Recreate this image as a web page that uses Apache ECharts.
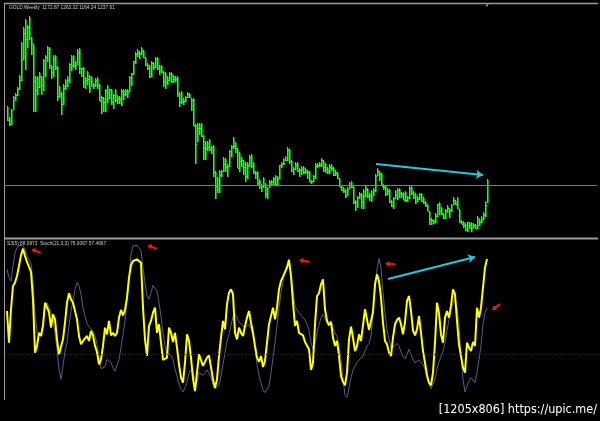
<!DOCTYPE html>
<html><head><meta charset="utf-8">
<script src="https://cdn.jsdelivr.net/npm/echarts@6/dist/echarts.min.js"></script>
<style>html,body{margin:0;padding:0;background:#000;}#c{width:600px;height:421px;}</style>
</head><body><div id="c"></div><script>
// Weekly GOLD bars (one per week, oldest first)
const highs = [1559,1512,1545,1597,1610,1633,1683,1817,1877,1911,1885,1921,1838,1808,1680,1680,1695,1681,1746,1765,
1802,1796,1724,1764,1763,1718,1640,1615,1645,1667,1680,1730,1764,1763,1738,1790,1792,1713,1716,1673,
1698,1683,1678,1652,1670,1673,1645,1600,1596,1625,1641,1628,1628,1605,1627,1603,1597,1627,1626,1625,
1627,1678,1693,1741,1778,1787,1781,1796,1786,1756,1730,1722,1740,1737,1755,1754,1723,1725,1701,1694,
1678,1695,1696,1685,1680,1678,1613,1620,1590,1598,1616,1610,1588,1591,1483,1487,1488,1487,1440,1417,
1417,1424,1397,1398,1293,1268,1299,1298,1349,1346,1323,1378,1400,1434,1412,1387,1373,1349,1340,1330,
1329,1361,1362,1329,1294,1293,1262,1243,1268,1245,1231,1256,1259,1272,1280,1274,1320,1332,1346,1355,
1392,1382,1338,1309,1331,1331,1307,1315,1315,1305,1297,1295,1256,1279,1325,1325,1332,1346,1340,1325,
1312,1322,1321,1311,1297,1290,1267,1237,1229,1222,1228,1250,1255,1233,1177,1194,1208,1206,1221,1238,
1226,1205,1216,1224,1283,1307,1295,1286,1241,1236,1224,1223,1175,1188,1219,1224,1224,1209,1209,1215,
1194,1232,1232,1214,1206,1195,1205,1204,1188,1171,1159,1133,1105,1097,1126,1162,1170,1147,1125,1141,
1156,1143,1162,1191,1178,1191,1142,1095,1090,1085,1089,1089,1088,1084,1081,1111,1101,1112,1128,1174,1263.32];
const lows = [1496,1478,1482,1540,1577,1597,1623,1660,1745,1704,1793,1826,1764,1535,1533,1604,1629,1603,1618,1675,
1737,1706,1668,1675,1703,1576,1590,1523,1563,1621,1634,1652,1700,1712,1702,1722,1688,1673,1631,1627,
1641,1612,1633,1627,1635,1626,1576,1527,1532,1533,1571,1587,1562,1547,1572,1564,1564,1558,1582,1600,
1591,1615,1640,1684,1729,1755,1748,1766,1752,1718,1702,1672,1675,1705,1710,1705,1683,1691,1636,1626,
1644,1660,1650,1651,1656,1596,1554,1566,1562,1574,1589,1590,1539,1476,1321,1413,1442,1434,1338,1339,
1376,1377,1365,1269,1180,1207,1207,1270,1290,1292,1272,1311,1349,1385,1366,1307,1292,1310,1277,1251,
1262,1311,1306,1281,1262,1236,1221,1211,1224,1186,1182,1224,1232,1237,1238,1237,1260,1308,1317,1333,
1336,1321,1290,1277,1298,1291,1268,1277,1284,1284,1262,1251,1240,1251,1261,1306,1310,1311,1292,1288,
1281,1282,1293,1273,1275,1262,1228,1214,1206,1183,1195,1220,1224,1160,1131,1144,1182,1142,1142,1189,
1186,1171,1168,1192,1208,1275,1252,1232,1216,1192,1196,1164,1147,1142,1180,1178,1185,1183,1175,1170,
1170,1182,1198,1182,1162,1170,1175,1168,1162,1147,1131,1077,1077,1080,1084,1110,1118,1117,1098,1100,
1125,1105,1130,1155,1158,1140,1085,1078,1065,1052,1046,1061,1047,1063,1058,1061,1072,1084,1094,1108,1164.24];
const closes = [1500,1484,1542,1594,1601,1626,1662,1743,1852,1828,1877,1855,1812,1658,1624,1636,1680,1642,1744,1754,
1788,1724,1697,1746,1713,1597,1606,1564,1630,1640,1664,1727,1725,1725,1724,1774,1710,1712,1655,1662,
1668,1631,1658,1642,1663,1642,1578,1592,1573,1622,1591,1626,1572,1602,1580,1590,1584,1619,1607,1620,
1615,1673,1690,1740,1768,1773,1772,1780,1757,1724,1711,1676,1731,1714,1750,1712,1704,1696,1657,1656,
1662,1693,1658,1667,1667,1608,1572,1577,1579,1592,1605,1596,1580,1476,1404,1468,1469,1436,1386,1386,
1391,1383,1391,1292,1234,1223,1277,1295,1323,1310,1313,1376,1396,1396,1387,1308,1333,1338,1309,1273,
1315,1352,1315,1287,1288,1244,1251,1232,1237,1203,1238,1251,1254,1264,1240,1263,1319,1323,1326,1340,
1379,1336,1294,1303,1318,1293,1300,1302,1291,1293,1291,1251,1252,1275,1316,1317,1320,1338,1310,1303,
1295,1310,1305,1280,1287,1266,1231,1216,1215,1192,1223,1238,1230,1170,1169,1187,1196,1167,1192,1222,
1195,1196,1189,1217,1276,1293,1283,1234,1228,1203,1213,1167,1152,1183,1199,1219,1207,1203,1178,1178,
1189,1225,1205,1190,1168,1180,1201,1173,1164,1157,1131,1098,1095,1094,1113,1160,1134,1121,1103,1138,
1145,1137,1156,1176,1162,1141,1088,1081,1076,1057,1086,1075,1065,1075,1061,1104,1089,1097,1117,1158,1237.61];
// Oscillator window lines
const fastLine = [55.6,35.8,56.7,71.3,73.3,77.5,83.8,90.4,94.6,90,
86.3,87.5,80,62.9,29.6,33.8,42,40,46.3,60.8,
61.9,55,45.2,53.5,50.4,37.9,28.5,27.5,37.9,48.3,
60.8,66.7,62.9,60.8,60.8,50.4,40,34.8,36.9,36.9,
40,36.9,43.1,40.4,33.8,30,22.3,25.4,33.8,45.2,
41,49.4,40.4,42,40,42,51.5,56.3,52.9,56.3,
64,76.5,84.2,86.9,87.9,87.9,87.9,85.8,57.7,37.9,
27.5,46.3,49.4,54.6,57.7,42,47.3,35.8,25,25,
26.5,45.2,42,36.3,42,32.7,22.3,14,10.8,23.3,
41,36.9,26.5,13.3,5.6,17.1,28.5,28.5,21.3,20.2,
26.5,27.9,28.5,12.9,7.7,12.9,27.5,39,49.4,44.2,
59.8,67.1,69.2,66,42,37.9,45.2,42,40,46.3,
51.5,55.6,48.3,42,33.8,26.5,23.8,27.5,20.6,24.4,
35.8,47.3,52.5,57.7,50.4,57.7,69.2,74.4,77.1,77.9,
82.7,87.5,77.5,60.8,46.3,49.4,42,41.7,40.4,36.3,
36.9,31.7,18.8,23.3,47.3,65,66.7,72.3,75.4,56.7,
49.4,46.7,48.8,39,33.8,36.9,27.5,15,11.3,9.2,
17.1,37.9,45.8,39,30.6,33.8,41,36.9,35.8,56.7,
50.4,43.8,43.1,55,72.3,78.5,74.4,64,48.3,36.9,
34.8,29.6,27.5,39,47.3,50,51.5,47.3,41,48.8,
61.9,65,55.6,43.5,40.4,44.2,52.5,42,30.6,23.3,
15.4,10.8,9.2,17.1,35.8,60.8,54.2,41,35.8,51.5,
55.6,51.5,58.8,69.2,66,49.4,34.8,27.5,20.2,17.1,
35.8,32.7,30.6,36.3,33.8,57.7,51.5,57.7,70.2,82.7,88.1];
const slowLine = [81.7,76.5,74.4,83.8,92.1,95.2,96.7,97.3,96.3,94.2,
90,87.5,85.4,73.3,52.5,43.1,40,42,48.3,57.7,
60.8,59.8,54.6,50.4,42,31.7,19.2,12.9,21.3,30.6,
35.8,46.3,55.6,61.9,69.2,73.3,71.3,66,57.7,52.5,
47.9,45.8,45.2,43.1,40,34.8,27.5,19.6,19.2,20.8,
25.4,26.5,23.3,20.2,18.1,18.8,25.4,32.7,41,49.4,
61.9,75.4,91,96.3,97.3,96.7,95.2,93.1,82.7,73.3,
65,62.9,67.1,71.7,71.3,68.1,60.8,52.5,42,33.8,
29.6,29.2,27.9,25.4,19.2,15,9.8,6.7,5,7.7,
11.3,16.7,18.8,17.5,12.9,11.3,17.1,18.1,15.4,17.1,
18.8,16.7,14,9.8,6.7,6.3,9.2,15,22.3,29.6,
36.9,41,46.7,52.1,53.5,51.5,48.8,47.3,46.3,45,
44.2,47.3,44.6,40.4,31.7,22.3,15.4,10.8,6.3,4.6,
5,8.8,17.1,26.5,35.8,46.3,57.7,67.1,74.4,80.6,
84.8,88.3,79.6,68.1,58.8,56.3,54.6,52.9,51.7,50,
47.3,43.8,35.8,31.7,35.8,42,46.7,51.5,53.5,54.2,
48.3,49.4,49.4,44.6,42,39.6,33.8,25.4,12.9,2.9,
1.5,7.7,14,18.8,21.3,23.3,25,25.8,27.5,30.6,
33.8,35.4,40,54.6,69.2,81.7,88.3,82.7,67.1,54.6,
44.2,37.9,32.7,32.7,33.8,35.4,33.8,30,27.1,25.8,
28.5,31.7,28.5,25.4,23.3,24.4,25,23.8,22.3,19.2,
14,9.8,7.1,7.7,12.9,19.2,23.8,27.1,30.6,35.8,
43.1,50.4,56.7,60.8,62.9,57.7,46.3,27.5,12.9,5,
8.8,11.9,14,12.9,10.8,17.1,25.4,33.8,47.3,54.6,57.5];
const bidPrice = 1237.61;
const levelValue = 28.75;
const headerText = 'GOLD,Weekly  1172.87 1263.32 1164.24 1237.61';
const indicatorText = 'S3(5) 88.0973  Stoch(21,3,3) 76.0067 57.4667';
const watermarkText = '[1205x806] https://upic.me/';
// hand-drawn annotations: [bar index, value, rotation]
const priceArrow = [[184.5, 1322.7], [238, 1278]];
const oscArrow = [[190.5, 75.6], [234, 89.4]];
const redMarks = [[14.5, 93.1, -20], [72.5, 95.6, -20], [148.5, 86.9, -10], [191.5, 85, -5], [244.5, 58.1, 35]];

const priceData = highs.map((h, i) => [i, h, lows[i], closes[i]]);
const fastData = fastLine.map((v, i) => [i, v]);
const slowData = slowLine.map((v, i) => [i, v]);
const arrowPath = 'path://M0,4 L5,0 L5,2.5 L12,2.5 L12,5.5 L5,5.5 L5,8 Z';
const BAR = '#26f526';
const BAR_DIM = '#0d8f0d';

const chart = echarts.init(document.getElementById('c'));
chart.setOption({
  backgroundColor: '#000',
  animation: false,
  grid: [
    {left: 5, top: 5, width: 592, height: 232},
    {left: 5, top: 240, width: 592, height: 160}
  ],
  xAxis: [
    {type: 'value', gridIndex: 0, min: -1, max: 295, show: false},
    {type: 'value', gridIndex: 1, min: -1, max: 295, show: false}
  ],
  yAxis: [
    {type: 'value', gridIndex: 0, min: 1027, max: 1966.6, show: false},
    {type: 'value', gridIndex: 1, min: 0, max: 100, show: false}
  ],
  series: [
    {
      type: 'custom', xAxisIndex: 0, yAxisIndex: 0,
      data: priceData,
      itemStyle: {color: BAR},
      encode: {x: 0, y: [1, 2, 3]},
      renderItem: function (params, api) {
        const x = api.value(0);
        const pH = api.coord([x, api.value(1)]);
        const pL = api.coord([x, api.value(2)]);
        const pC = api.coord([x, api.value(3)]);
        const cx = Math.round(pH[0]);
        const top = Math.round(pH[1]);
        const h = Math.max(1, Math.round(pL[1]) - top);
        const cy = Math.round(pC[1]);
        return {type: 'group', children: [
          {type: 'rect', shape: {x: cx, y: top, width: 1, height: h}, style: {fill: BAR, stroke: null}},
          {type: 'rect', shape: {x: cx + 1, y: top + 1, width: 1, height: Math.max(1, h - 1)}, style: {fill: BAR_DIM, stroke: null}},
          {type: 'rect', shape: {x: cx + 1, y: cy, width: 1, height: 1}, style: {fill: BAR, stroke: null}}
        ]};
      },
      markLine: {
        silent: true, animation: false, symbol: ['none', 'none'],
        data: [
          {yAxis: bidPrice, lineStyle: {color: '#7c7c7c', width: 1, type: 'solid'}},
          [{coord: priceArrow[0], symbol: 'none'}, {coord: priceArrow[1], symbol: 'arrow', symbolSize: 7}]
        ],
        lineStyle: {color: '#29c6de', width: 2, type: 'solid'},
        label: {show: false}
      }
    },
    {
      type: 'line', xAxisIndex: 1, yAxisIndex: 1, data: slowData,
      symbol: 'none', lineStyle: {color: '#5b5b8e', width: 1},
      markLine: {
        silent: true, animation: false, symbol: ['none', 'none'],
        data: [{yAxis: levelValue}],
        lineStyle: {color: '#4a1c34', width: 1, type: [1, 2]},
        label: {show: false}
      }
    },
    {
      type: 'line', xAxisIndex: 1, yAxisIndex: 1, data: fastData,
      symbol: 'none', lineStyle: {color: '#ffff00', width: 2},
      markLine: {
        silent: true, animation: false, symbol: ['none', 'none'],
        data: [[{coord: oscArrow[0], symbol: 'none'}, {coord: oscArrow[1], symbol: 'arrow', symbolSize: 7}]],
        lineStyle: {color: '#29c6de', width: 2, type: 'solid'},
        label: {show: false}
      },
      markPoint: {
        silent: true, animation: false,
        data: redMarks.map(m => ({coord: [m[0], m[1]], symbolRotate: m[2]})),
        symbol: arrowPath, symbolSize: [10, 6],
        itemStyle: {color: '#e81818'},
        label: {show: false}
      }
    }
  ],
  graphic: [
    {type: 'line', shape: {x1: 4, y1: 3.5, x2: 598, y2: 3.5}, style: {stroke: '#9a9a9a', lineWidth: 1.5}},
    {type: 'line', shape: {x1: 4.5, y1: 3, x2: 4.5, y2: 238}, style: {stroke: '#9a9a9a', lineWidth: 1}},
    {type: 'line', shape: {x1: 4, y1: 238.5, x2: 598, y2: 238.5}, style: {stroke: '#9a9a9a', lineWidth: 2}},
    {type: 'line', shape: {x1: 4.5, y1: 239, x2: 4.5, y2: 400}, style: {stroke: '#9a9a9a', lineWidth: 1}},
    {type: 'polygon', shape: {points: [[485.5, 4.5], [488.5, 4.5], [487, 7]]}, style: {fill: '#9a9a9a'}},
    {type: 'text', left: 9, top: 5.5, style: {text: headerText, fill: '#cfcfcf', font: '4.8px "Liberation Sans"'}},
    {type: 'text', left: 7, top: 241, style: {text: indicatorText, fill: '#cfcfcf', font: '4.8px "Liberation Sans"'}},
    {type: 'text', right: 3, top: 403, style: {text: watermarkText, fill: '#ffffff', font: '12.5px "DejaVu Sans Condensed"'}}
  ]
});
</script></body></html>
